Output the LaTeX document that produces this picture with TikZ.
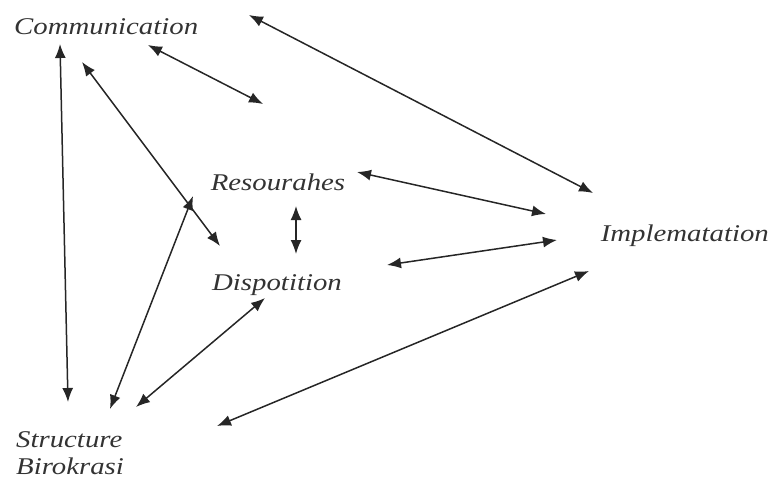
\documentclass[tikz,border=0pt]{standalone}
\usepackage{fontspec}
\usepackage{graphicx}
\setmainfont{Liberation Serif}
\usetikzlibrary{arrows.meta}
\newcommand{\lbltext}[1]{\scalebox{1.2}[1]{\fontsize{24}{25}\selectfont\itshape #1}}
\begin{document}
\begin{tikzpicture}[x=1pt,y=-1pt,
  lbl/.style={inner sep=0pt,text=black!80},
  conn/.style={line width=1.5pt,{Latex[length=14pt,width=11pt]}-{Latex[length=14pt,width=11pt]},black!85}]
\useasboundingbox (0,0) rectangle (773,485);
\node[lbl,anchor=west] (comm) at (14,27) {\lbltext{Communication}};
\node[lbl] (res) at (278,182) {\lbltext{Resourahes}};
\node[lbl] (disp) at (277,285) {\lbltext{Dispotition}};
\node[lbl,anchor=east] (impl) at (769,236) {\lbltext{Implematation}};
\node[lbl,anchor=west] (str) at (16,440) {\lbltext{Structure}};
\node[lbl,anchor=west] (bir) at (16,466) {\lbltext{Birokrasi}};
% endpoints
\coordinate (a1) at (148,45); \coordinate (a2) at (263,104);
\coordinate (b1) at (249,15); \coordinate (b2) at (593,193);
\coordinate (c1) at (60,44);  \coordinate (c2) at (68,402);
\coordinate (d1) at (82,62);  \coordinate (d2) at (220,246);
\coordinate (e1) at (357,172); \coordinate (e2) at (546,214);
\coordinate (f1) at (296,206); \coordinate (f2) at (296,254);
\coordinate (g1) at (387,265); \coordinate (g2) at (557,240);
\coordinate (h1) at (193,196); \coordinate (h2) at (110,409);
\coordinate (i1) at (265,298); \coordinate (i2) at (136,407);
\coordinate (j1) at (217,426); \coordinate (j2) at (589,271);
\draw[conn] (a1) -- (a2);
\draw[conn] (b1) -- (b2);
\draw[conn] (c1) -- (c2);
\draw[conn] (d1) -- (d2);
\draw[conn] (e1) -- (e2);
\draw[conn] (f1) -- (f2);
\draw[conn] (g1) -- (g2);
\draw[conn] (h1) -- (h2);
\draw[conn] (i1) -- (i2);
\draw[conn] (j1) -- (j2);
\end{tikzpicture}
\end{document}
